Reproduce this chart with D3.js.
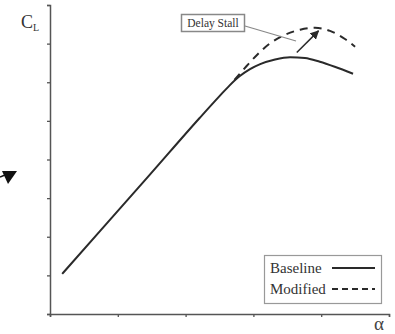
<!DOCTYPE html>
<html><head><meta charset="utf-8">
<script src="https://cdn.jsdelivr.net/npm/d3@7"></script>
<style>html,body{margin:0;padding:0;background:#fff}svg{display:block}</style>
</head><body><svg id="c" width="395" height="334"></svg>
<script>
const xTicks = [0, 1, 2, 3, 4, 5];
const yTicks = [0, 1, 2, 3, 4, 5, 6, 7, 8];
const baselineX = [0.18, 0.74, 1.47, 2.21, 2.50, 2.65, 2.80, 2.95, 3.10, 3.32, 3.54, 3.76, 3.98, 4.20, 4.47];
const baselineY = [1.04, 2.15, 3.60, 5.08, 5.64, 5.92, 6.16, 6.34, 6.47, 6.59, 6.65, 6.63, 6.53, 6.40, 6.22];
const modifiedX = [2.72, 2.90, 3.06, 3.24, 3.47, 3.69, 3.91, 4.13, 4.35, 4.50];
const modifiedY = [6.06, 6.42, 6.72, 7.00, 7.23, 7.36, 7.41, 7.33, 7.12, 6.92];
const legendLabels = ["Baseline", "Modified"];
const annotation = "Delay Stall";

const svg = d3.select("#c");
const x = d3.scaleLinear().domain([0, 5]).range([50, 389]);
const y = d3.scaleLinear().domain([0, 8]).range([314, 5]);
const axisCol = "#555";
const lineCol = "#2a2a2a";
const font = "'Liberation Serif', 'Times New Roman', serif";

// axes
const gx = svg.append("g").attr("transform", `translate(0,${y(0)})`)
  .call(d3.axisBottom(x).tickValues(xTicks).tickSize(3).tickFormat(""));
const gy = svg.append("g").attr("transform", `translate(${x(0)},0)`)
  .call(d3.axisLeft(y).tickValues(yTicks).tickSize(3).tickFormat(""));
[gx, gy].forEach(g => {
  g.selectAll("path").attr("stroke", axisCol).attr("stroke-width", 1.5);
  g.selectAll("line").attr("stroke", axisCol).attr("stroke-width", 1.3);
});

// axis labels
const cl = svg.append("text").attr("x", 21).attr("y", 28)
  .attr("font-family", font).attr("font-size", 18).attr("fill", "#333");
cl.append("tspan").text("C");
cl.append("tspan").attr("font-size", 10).attr("dy", 3).text("L");
svg.append("text").attr("x", 379).attr("y", 330).attr("text-anchor", "middle")
  .attr("font-family", font).attr("font-size", 19).attr("fill", "#444").text("α");

// lines
const line = d3.line().x(d => x(d[0])).y(d => y(d[1])).curve(d3.curveMonotoneX);
const base = baselineX.map((v, i) => [v, baselineY[i]]);
const mod = modifiedX.map((v, i) => [v, modifiedY[i]]);
svg.append("path").datum(mod).attr("d", line).attr("fill", "none")
  .attr("stroke", lineCol).attr("stroke-width", 2).attr("stroke-dasharray", "8,6");
svg.append("path").datum(base).attr("d", line).attr("fill", "none")
  .attr("stroke", lineCol).attr("stroke-width", 2);

// annotation arrow
const defs = svg.append("defs");
defs.append("marker").attr("id", "ah").attr("viewBox", "0 0 10 10").attr("refX", 9).attr("refY", 5)
  .attr("markerWidth", 6).attr("markerHeight", 6).attr("orient", "auto")
  .append("path").attr("d", "M0,0 L10,5 L0,10 z").attr("fill", lineCol);
svg.append("line").attr("x1", x(3.64)).attr("y1", y(6.77)).attr("x2", x(3.96)).attr("y2", y(7.33))
  .attr("stroke", lineCol).attr("stroke-width", 1.5).attr("marker-end", "url(#ah)");

// annotation label
svg.append("line").attr("x1", 245).attr("y1", 26).attr("x2", 296).attr("y2", 41)
  .attr("stroke", "#888").attr("stroke-width", 1.2);
svg.append("rect").attr("x", 181.5).attr("y", 14.5).attr("width", 63).attr("height", 17)
  .attr("fill", "#fff").attr("stroke", "#888").attr("stroke-width", 1.5);
svg.append("text").attr("x", 213).attr("y", 27).attr("text-anchor", "middle")
  .attr("font-family", font).attr("font-size", 11.5).attr("fill", "#333").text(annotation);

// legend
svg.append("rect").attr("x", 264.5).attr("y", 255.5).attr("width", 117).attr("height", 48)
  .attr("fill", "#fff").attr("stroke", "#999").attr("stroke-width", 1.2);
legendLabels.forEach((t, i) => {
  const yy = 268 + i * 21;
  svg.append("text").attr("x", 270).attr("y", yy + 5).attr("font-family", font)
    .attr("font-size", 15).attr("fill", "#333").text(t);
  svg.append("line").attr("x1", 332).attr("x2", 375).attr("y1", yy).attr("y2", yy)
    .attr("stroke", lineCol).attr("stroke-width", 2).attr("stroke-dasharray", i ? "6,4" : null);
});

// stray arrowhead artifact on left
svg.append("path").attr("d", "M0,177 L5,175").attr("stroke", "#111").attr("stroke-width", 1.5);
svg.append("path").attr("d", "M2,171 L17,171 L8,184 Z").attr("fill", "#111");
</script></body></html>
